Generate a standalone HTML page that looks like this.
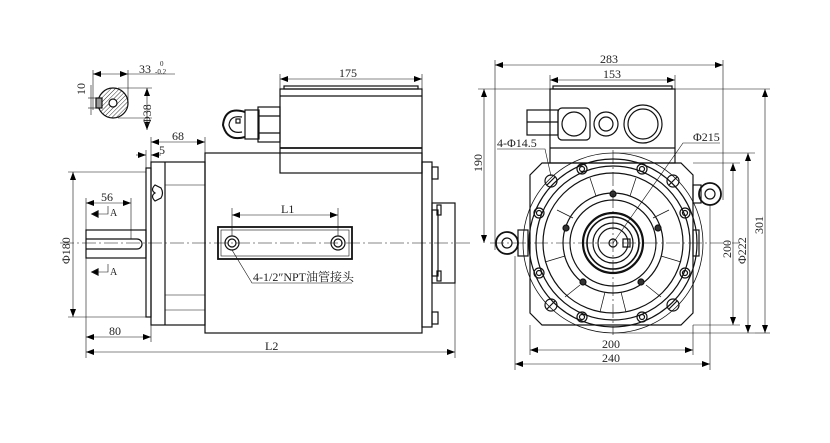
<!DOCTYPE html>
<html><head><meta charset="utf-8"><style>
html,body{margin:0;padding:0;background:#fff;}
svg{display:block;}
text{font-family:"Liberation Serif","Noto Serif CJK SC",serif;font-size:12px;fill:#222;}
</style></head><body>
<svg width="830" height="443" viewBox="0 0 830 443" xmlns="http://www.w3.org/2000/svg">
<defs>
<marker id="a" markerWidth="8" markerHeight="6" refX="8" refY="3" orient="auto-start-reverse" markerUnits="userSpaceOnUse"><path d="M0,0 L8,3 L0,6 z" fill="#000"/></marker>
<pattern id="h" width="3" height="3" patternUnits="userSpaceOnUse" patternTransform="rotate(45)"><line x1="0" y1="0" x2="0" y2="3" stroke="#333" stroke-width="1"/></pattern>
</defs>
<g stroke="#111" stroke-width="1.2" fill="none">
<circle cx="113" cy="103" r="15" fill="url(#h)"/>
<circle cx="113" cy="103" r="4" fill="#fff"/>
<rect x="96" y="98" width="6" height="10" fill="#999"/>
<line x1="93" y1="70" x2="93" y2="110" stroke-width="0.6"/>
<line x1="128" y1="70" x2="128" y2="100" stroke-width="0.6"/>
<line x1="93" y1="74" x2="128" y2="74" stroke-width="0.6" marker-start="url(#a)" marker-end="url(#a)"/>
<line x1="128" y1="74" x2="175" y2="74" stroke-width="0.6"/>
<line x1="118" y1="88" x2="152" y2="88" stroke-width="0.6"/>
<line x1="118" y1="118" x2="152" y2="118" stroke-width="0.6"/>
<line x1="147" y1="88" x2="147" y2="130" stroke-width="0.6" marker-start="url(#a)" marker-end="url(#a)"/>
<line x1="88" y1="98" x2="96" y2="98" stroke-width="0.6"/>
<line x1="88" y1="108" x2="96" y2="108" stroke-width="0.6"/>
<line x1="91" y1="85" x2="91" y2="115" stroke-width="0.6"/>

<rect x="205" y="153" width="217" height="180"/>
<rect x="151" y="162" width="54" height="163"/>
<line x1="165" y1="162" x2="165" y2="325"/>
<line x1="165" y1="185" x2="205" y2="185" stroke-width="0.6"/>
<line x1="165" y1="295" x2="205" y2="295" stroke-width="0.6"/>
<line x1="165" y1="310" x2="205" y2="310" stroke-width="0.6"/>
<rect x="146" y="168" width="5" height="149"/>
<path d="M155,185 q-5,5 0,8 q-5,3 0,8 l6,-3 q3,-5 0,-10 z"/>
<rect x="86" y="230" width="60" height="28"/>
<path d="M86,239 h51 a5,5 0 0 1 0,10 h-51"/>
<rect x="280" y="89" width="142" height="84"/>
<line x1="280" y1="96" x2="422" y2="96"/>
<line x1="280" y1="148" x2="422" y2="148" stroke-width="1.8"/>
<rect x="284" y="86" width="134" height="3"/>
<rect x="258" y="107" width="22" height="35"/>
<rect x="245" y="110" width="14" height="29"/>
<line x1="258" y1="116" x2="280" y2="116"/>
<line x1="258" y1="133" x2="280" y2="133"/>
<path d="M245,112 q-20,-6 -22,13 q4,17 22,12" stroke-width="2"/>
<path d="M242,117 q-12,-2 -13,8 q2,9 13,7"/>
<rect x="236" y="119" width="4" height="4"/>
<rect x="422" y="162" width="10" height="165"/>
<rect x="432" y="167" width="6" height="12"/>
<rect x="432" y="312" width="6" height="12"/>
<rect x="432" y="203" width="23" height="80"/>
<rect x="432" y="210" width="6" height="66"/>
<rect x="437" y="205" width="4" height="10"/>
<rect x="437" y="271" width="4" height="10"/>
<rect x="218" y="227" width="134" height="32" stroke-width="1.8"/>
<rect x="221" y="230" width="128" height="26" stroke-width="0.6"/>
<circle cx="232" cy="243" r="7"/><circle cx="232" cy="243" r="4"/>
<circle cx="338" cy="243" r="7"/><circle cx="338" cy="243" r="4"/>
<path d="M232,250 L252,283 H352" stroke-width="0.6"/>
<line x1="60" y1="243" x2="470" y2="243" stroke-width="0.6" stroke-dasharray="14,3,2,3"/>
<g stroke-width="0.6">
<line x1="232" y1="208" x2="232" y2="236"/><line x1="338" y1="208" x2="338" y2="236"/>
<line x1="232" y1="215" x2="338" y2="215" marker-start="url(#a)" marker-end="url(#a)"/>
<line x1="86" y1="230" x2="86" y2="358"/><line x1="455" y1="283" x2="455" y2="358"/>
<line x1="86" y1="352" x2="455" y2="352" marker-start="url(#a)" marker-end="url(#a)"/>
<line x1="151" y1="325" x2="151" y2="342"/>
<line x1="86" y1="337" x2="151" y2="337" marker-start="url(#a)" marker-end="url(#a)"/>
<line x1="86" y1="198" x2="86" y2="230"/><line x1="131" y1="198" x2="131" y2="239"/>
<line x1="86" y1="203" x2="131" y2="203" marker-start="url(#a)" marker-end="url(#a)"/>
<line x1="68" y1="172" x2="146" y2="172"/><line x1="68" y1="317" x2="146" y2="317"/>
<line x1="73" y1="172" x2="73" y2="317" marker-start="url(#a)" marker-end="url(#a)"/>
<line x1="151" y1="137" x2="151" y2="162"/><line x1="205" y1="137" x2="205" y2="153"/>
<line x1="151" y1="142" x2="205" y2="142" marker-start="url(#a)" marker-end="url(#a)"/>
<line x1="146" y1="150" x2="146" y2="168"/>
<line x1="136" y1="155" x2="146" y2="155" marker-end="url(#a)"/>
<line x1="161" y1="155" x2="151" y2="155" marker-end="url(#a)"/>
<line x1="280" y1="74" x2="280" y2="89"/><line x1="422" y1="74" x2="422" y2="89"/>
<line x1="280" y1="79" x2="422" y2="79" marker-start="url(#a)" marker-end="url(#a)"/>
<path d="M108,206 v8 h-14" /><path d="M108,264 v8 h-14"/>
</g>
<path d="M92,214 l6,-3 v6 z M92,272 l6,-3 v6 z" fill="#000"/>

<rect x="550" y="89" width="125" height="74"/>
<rect x="553" y="86" width="119" height="3"/>
<line x1="550" y1="148" x2="675" y2="148"/>
<rect x="558" y="108" width="32" height="32" rx="4"/>
<circle cx="574" cy="124" r="12"/>
<rect x="527" y="110" width="31" height="25"/>
<line x1="527" y1="122" x2="558" y2="122"/>
<circle cx="606" cy="124" r="12"/><circle cx="606" cy="124" r="7"/>
<circle cx="643" cy="124" r="19"/><circle cx="643" cy="124" r="15"/>
<path d="M542,163 H681 L693,175 V313 L681,325 H542 L530,313 V175 Z"/>
<circle cx="613" cy="243" r="90" stroke-width="0.8"/>
<circle cx="613" cy="243" r="84"/>
<circle cx="613" cy="243" r="77"/>
<circle cx="613" cy="243" r="70"/>
<circle cx="613" cy="243" r="50"/>
<circle cx="613" cy="243" r="43"/>
<circle cx="613" cy="243" r="30" stroke-width="2.2"/>
<circle cx="613" cy="243" r="26" stroke-width="1.6"/>
<circle cx="613" cy="243" r="20"/>
<circle cx="613" cy="243" r="15"/>
<circle cx="613" cy="243" r="4"/>
<rect x="623" y="239" width="7" height="8"/>
<g stroke-width="0.7">
<line x1="590" y1="178" x2="596" y2="196"/><line x1="636" y1="178" x2="630" y2="196"/>
<line x1="557" y1="210" x2="573" y2="218"/><line x1="669" y1="210" x2="653" y2="218"/>
<line x1="545" y1="262" x2="565" y2="256"/><line x1="681" y1="262" x2="661" y2="256"/>
<line x1="565" y1="297" x2="580" y2="285"/><line x1="661" y1="297" x2="646" y2="285"/>
<line x1="600" y1="312" x2="605" y2="292"/><line x1="626" y1="312" x2="621" y2="292"/>
</g>
<g>
<circle cx="582" cy="169" r="5"/><circle cx="642" cy="169" r="5"/>
<circle cx="539" cy="213" r="5"/><circle cx="685" cy="213" r="5"/>
<circle cx="539" cy="273" r="5"/><circle cx="685" cy="273" r="5"/>
<circle cx="582" cy="317" r="5"/><circle cx="642" cy="317" r="5"/>
<circle cx="582" cy="169" r="2.5"/><circle cx="642" cy="169" r="2.5"/>
<circle cx="539" cy="213" r="2.5"/><circle cx="685" cy="213" r="2.5"/>
<circle cx="539" cy="273" r="2.5"/><circle cx="685" cy="273" r="2.5"/>
<circle cx="582" cy="317" r="2.5"/><circle cx="642" cy="317" r="2.5"/>
</g>
<g fill="#333">
<circle cx="613" cy="194" r="3"/><circle cx="566" cy="228" r="3"/><circle cx="658" cy="228" r="3"/>
<circle cx="583" cy="282" r="3"/><circle cx="641" cy="282" r="3"/>
</g>
<g>
<circle cx="551" cy="181" r="6"/><line x1="547" y1="185" x2="555" y2="177"/>
<circle cx="673" cy="181" r="6"/><line x1="669" y1="185" x2="677" y2="177"/>
<circle cx="551" cy="305" r="6"/><line x1="547" y1="309" x2="555" y2="301"/>
<circle cx="673" cy="305" r="6"/><line x1="669" y1="309" x2="677" y2="301"/>
</g>
<circle cx="507" cy="243" r="11" stroke-width="1.8"/><circle cx="507" cy="243" r="5"/>
<rect x="518" y="230" width="10" height="26"/>
<circle cx="710" cy="194" r="11" stroke-width="1.8"/><circle cx="710" cy="194" r="5"/>
<rect x="693" y="185" width="8" height="18"/>
<rect x="693" y="230" width="6" height="26"/>
<line x1="490" y1="243" x2="740" y2="243" stroke-width="0.6" stroke-dasharray="14,3,2,3"/>
<line x1="613" y1="150" x2="613" y2="335" stroke-width="0.6" stroke-dasharray="14,3,2,3"/>
<g stroke-width="0.6">
<line x1="495" y1="60" x2="495" y2="250"/><line x1="723" y1="60" x2="723" y2="200"/>
<line x1="495" y1="65" x2="723" y2="65" marker-start="url(#a)" marker-end="url(#a)"/>
<line x1="550" y1="75" x2="550" y2="89"/><line x1="675" y1="75" x2="675" y2="89"/>
<line x1="550" y1="80" x2="675" y2="80" marker-start="url(#a)" marker-end="url(#a)"/>
<line x1="478" y1="89" x2="770" y2="89"/>
<line x1="484" y1="89" x2="484" y2="243" marker-start="url(#a)" marker-end="url(#a)"/>
<line x1="530" y1="325" x2="530" y2="355"/><line x1="693" y1="325" x2="693" y2="355"/>
<line x1="530" y1="350" x2="693" y2="350" marker-start="url(#a)" marker-end="url(#a)"/>
<line x1="515" y1="256" x2="515" y2="370"/><line x1="710" y1="205" x2="710" y2="370"/>
<line x1="515" y1="364" x2="710" y2="364" marker-start="url(#a)" marker-end="url(#a)"/>
<line x1="693" y1="163" x2="740" y2="163"/><line x1="693" y1="325" x2="740" y2="325"/>
<line x1="733" y1="163" x2="733" y2="325" marker-start="url(#a)" marker-end="url(#a)"/>
<line x1="613" y1="153" x2="755" y2="153"/><line x1="613" y1="333" x2="755" y2="333"/>
<line x1="748" y1="153" x2="748" y2="333" marker-start="url(#a)" marker-end="url(#a)"/>
<line x1="765" y1="89" x2="765" y2="333" marker-start="url(#a)" marker-end="url(#a)"/>
<line x1="755" y1="333" x2="770" y2="333"/>
<path d="M497,149 H545 L551,176"/>
<path d="M720,143 H683 L613,243"/>
</g>
</g>
<g>
<text x="81" y="91" transform="rotate(-90 85 91)">10</text>
<text x="139" y="73">33</text>
<text x="160" y="66" style="font-size:7px">0</text>
<text x="155" y="74" style="font-size:7px">-0.2</text>
<text x="0" y="0" transform="translate(151,125) rotate(-90)">Φ38</text>
<text x="339" y="77">175</text>
<text x="172" y="140">68</text>
<text x="159" y="154">5</text>
<text x="101" y="201">56</text>
<text x="110" y="216" style="font-size:10px">A</text>
<text x="110" y="275" style="font-size:10px">A</text>
<text x="0" y="0" transform="translate(70,264) rotate(-90)">Φ180</text>
<text x="281" y="213">L1</text>
<text x="253" y="281">4-1/2″NPT油管接头</text>
<text x="109" y="335">80</text>
<text x="265" y="350">L2</text>
<text x="600" y="63">283</text>
<text x="603" y="78">153</text>
<text x="0" y="0" transform="translate(482,172) rotate(-90)">190</text>
<text x="497" y="147">4-Φ14.5</text>
<text x="693" y="141">Φ215</text>
<text x="602" y="348">200</text>
<text x="602" y="362">240</text>
<text x="0" y="0" transform="translate(731,258) rotate(-90)">200</text>
<text x="0" y="0" transform="translate(746,264) rotate(-90)">Φ222</text>
<text x="0" y="0" transform="translate(763,234) rotate(-90)">301</text>
</g>
</svg>
</body></html>
